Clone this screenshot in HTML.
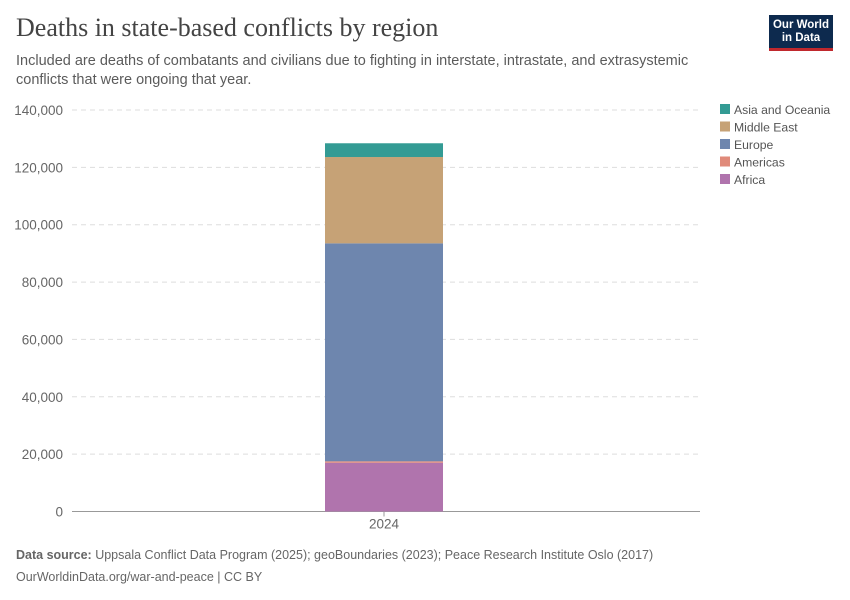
<!DOCTYPE html>
<html><head><meta charset="utf-8"><style>
body{margin:0;background:#fff;font-family:"Liberation Sans",sans-serif;}
.wrap{position:relative;width:850px;height:600px;overflow:hidden;}
h1{position:absolute;left:16px;top:13px;margin:0;font-family:"Liberation Serif",serif;font-weight:normal;font-size:26px;color:#444;}
.sub{position:absolute;left:16px;top:52px;font-size:14.5px;color:#5b5b5b;line-height:19px;width:700px;}
.logo{position:absolute;left:769px;top:15px;width:64px;height:36px;background:#0d2a4e;color:#fff;font-size:11.5px;line-height:13px;text-align:center;padding-top:4px;box-sizing:border-box;border-bottom:3px solid #c0282d;font-weight:bold;}
.foot{position:absolute;left:16px;font-size:12.5px;color:#666;}
</style></head><body><div class="wrap">
<h1>Deaths in state-based conflicts by region</h1>
<div class="sub">Included are deaths of combatants and civilians due to fighting in interstate, intrastate, and extrasystemic conflicts that were ongoing that year.</div>
<div class="logo">Our World<br>in Data</div>
<svg id="svg" width="850" height="600" style="position:absolute;left:0;top:0"></svg>
<div class="foot" style="top:548px"><b>Data source:</b> Uppsala Conflict Data Program (2025); geoBoundaries (2023); Peace Research Institute Oslo (2017)</div>
<div class="foot" style="top:570px">OurWorldinData.org/war-and-peace | CC BY</div>
</div>
<script>
const categories=["2024"];
const seriesNames=["Africa","Americas","Europe","Middle East","Asia and Oceania"];
const seriesColors=["#b074ad","#e08a7a","#6e86ae","#c6a276","#339b94"];
const africa=[17000];
const americas=[500];
const europe=[76000];
const middleEast=[30100];
const asia=[4800];
const yTicks=[0,20000,40000,60000,80000,100000,120000,140000];
const series=[africa,americas,europe,middleEast,asia];
const NS="http://www.w3.org/2000/svg";
const svg=document.getElementById('svg');
const x0=72,x1=700,yBase=511.5,yTop=110;
const yMax=140000;
const y=v=>yBase-(v/yMax)*(yBase-yTop);
function mk(t,a){const e=document.createElementNS(NS,t);for(const k in a)e.setAttribute(k,a[k]);svg.appendChild(e);return e;}
yTicks.forEach(t=>{
  if(t>0){const l=mk('line',{x1:x0,x2:x1,y1:y(t),y2:y(t),stroke:'#ddd','stroke-dasharray':'5,4'});
  
  }
  const tx=mk('text',{x:63,y:y(t)+5,'text-anchor':'end','font-size':'13.5','fill':'#666','font-family':'Liberation Sans'});
  tx.textContent=t.toLocaleString('en-US');
  
  
});
const ax=mk('line',{x1:x0,x2:x1,y1:yBase,y2:yBase,stroke:'#999'});


const band=(x1-4-x0)/categories.length;
categories.forEach((c,i)=>{
  const cx=x0+band*(i+0.5),w=118;
  let cum=0;
  series.forEach((s,j)=>{
    const v=s[i];
    const r=mk('rect',{x:cx-w/2,y:y(cum+v),width:w,height:y(cum)-y(cum+v),fill:seriesColors[j]});
    
    
    cum+=v;
  });
  mk('line',{x1:cx,x2:cx,y1:yBase,y2:yBase+5,stroke:'#999'});
  const t=mk('text',{x:cx,y:yBase+17,'text-anchor':'middle','font-size':'13.5',fill:'#666','font-family':'Liberation Sans'});
  t.textContent=c;
  
  
});
for(let j=seriesNames.length-1,k=0;j>=0;j--,k++){
  const ly=104+k*17.5;
  const r=mk('rect',{x:720,y:ly,width:10,height:10,fill:seriesColors[j]});
  
  
  const t=mk('text',{x:734,y:ly+10,'font-size':'12.2',fill:'#555','font-family':'Liberation Sans'});
  t.textContent=seriesNames[j];
  
  
}
</script></body></html>
